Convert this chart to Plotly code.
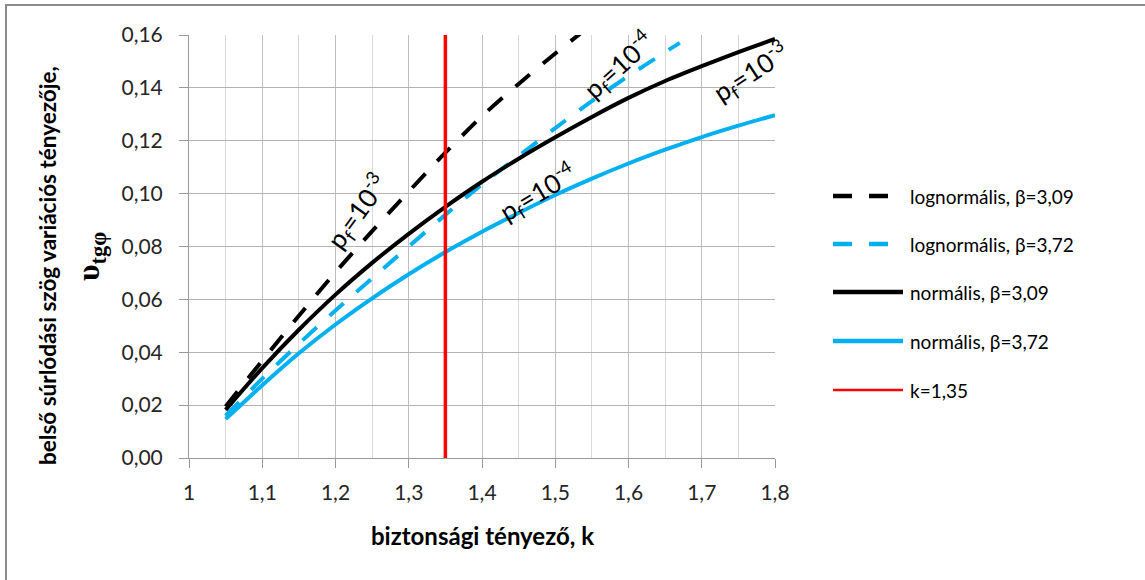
import plotly.graph_objects as go

# ---------------- data ----------------
k_norm = [1.05, 1.10, 1.15, 1.20, 1.25, 1.30, 1.35, 1.40, 1.45, 1.50, 1.55, 1.60, 1.65, 1.70, 1.75, 1.80]
v_norm_309 = [0.0182, 0.0340, 0.0485, 0.0618, 0.0738, 0.0848, 0.0950, 0.1045, 0.1132, 0.1213,
              0.1290, 0.1362, 0.1426, 0.1482, 0.1535, 0.1585]
v_norm_372 = [0.0147, 0.0275, 0.0396, 0.0505, 0.0604, 0.0695, 0.0779, 0.0856, 0.0927, 0.0995,
              0.1057, 0.1114, 0.1166, 0.1214, 0.1257, 0.1297]

k_logn_309 = [1.05, 1.10, 1.15, 1.20, 1.25, 1.30, 1.35, 1.40, 1.45, 1.50, 1.55]
v_logn_309 = [0.0195, 0.0368, 0.0538, 0.0703, 0.0858, 0.1008, 0.1155, 0.1293, 0.1415, 0.1530, 0.1640]

k_logn_372 = [1.05, 1.10, 1.15, 1.20, 1.25, 1.30, 1.35, 1.40, 1.45, 1.50, 1.55, 1.60, 1.65, 1.67]
v_logn_372 = [0.0160, 0.0300, 0.0432, 0.0558, 0.0680, 0.0800, 0.0920, 0.1035, 0.1142, 0.1248,
              0.1350, 0.1445, 0.1535, 0.1570]

k_ref = [1.35, 1.35]
v_ref = [0.0, 0.16]

series_names = ["lognormális, β=3,09", "lognormális, β=3,72", "normális, β=3,09",
                "normális, β=3,72", "k=1,35"]

x_tickvals = [1.0, 1.1, 1.2, 1.3, 1.4, 1.5, 1.6, 1.7, 1.8]
x_ticktext = ["1", "1,1", "1,2", "1,3", "1,4", "1,5", "1,6", "1,7", "1,8"]
y_tickvals = [0.00, 0.02, 0.04, 0.06, 0.08, 0.10, 0.12, 0.14, 0.16]
y_ticktext = ["0,00", "0,02", "0,04", "0,06", "0,08", "0,10", "0,12", "0,14", "0,16"]

# annotation labels: (k, v, text, angle)
label_k = [1.230, 1.587, 1.477, 1.767]
label_v = [0.0935, 0.1485, 0.1005, 0.1460]
label_text = ["p<sub>f</sub>=10<sup>-3</sup>", "p<sub>f</sub>=10<sup>-4</sup>",
              "p<sub>f</sub>=10<sup>-4</sup>", "p<sub>f</sub>=10<sup>-3</sup>"]
label_angle = [-54, -42, -31, -33]

# ---------------- style ----------------
BLACK = "#000000"
BLUE = "#00B0F0"
RED = "#FF0000"
FONT = "Lato"
DASH = "19px,17px"
W, H = 1145, 580
ML, MR, MT, MB = 189, 370, 35, 122
PW, PH = W - ML - MR, H - MT - MB


def px2x(px):
    return (px - ML) / PW


def py2y(py):
    return (H - MB - py) / PH


fig = go.Figure()
fig.add_trace(go.Scatter(x=k_logn_309, y=v_logn_309, mode="lines", name=series_names[0],
                         line=dict(color=BLACK, width=4, dash=DASH, shape="spline", smoothing=0.8),
                         showlegend=False))
fig.add_trace(go.Scatter(x=k_logn_372, y=v_logn_372, mode="lines", name=series_names[1],
                         line=dict(color=BLUE, width=4, dash=DASH, shape="spline", smoothing=0.8),
                         showlegend=False))
fig.add_trace(go.Scatter(x=k_norm, y=v_norm_309, mode="lines", name=series_names[2],
                         line=dict(color=BLACK, width=4, shape="spline", smoothing=0.8),
                         showlegend=False))
fig.add_trace(go.Scatter(x=k_norm, y=v_norm_372, mode="lines", name=series_names[3],
                         line=dict(color=BLUE, width=4, shape="spline", smoothing=0.8),
                         showlegend=False))
fig.add_trace(go.Scatter(x=k_ref, y=v_ref, mode="lines", name=series_names[4],
                         line=dict(color=RED, width=3.5), showlegend=False))

annotations = []
for kx, vy, txt, ang in zip(label_k, label_v, label_text, label_angle):
    annotations.append(dict(x=kx, y=vy, xref="x", yref="y", text=txt, textangle=ang,
                            showarrow=False, xanchor="center", yanchor="middle",
                            font=dict(family=FONT, size=26, color="#000000")))

# axis titles
annotations.append(dict(x=0.5, y=py2y(535), xref="paper", yref="paper",
                        text="<b>biztonsági tényező, k</b>", showarrow=False,
                        xanchor="center", yanchor="middle",
                        font=dict(family=FONT, size=24, color="#000000")))
annotations.append(dict(x=px2x(47), y=py2y(266), xref="paper", yref="paper",
                        text="<b>belső súrlódási szög variációs tényezője,</b>", showarrow=False,
                        textangle=-90, xanchor="center", yanchor="middle",
                        font=dict(family=FONT, size=22.5, color="#000000")))
annotations.append(dict(x=px2x(90), y=py2y(257), xref="paper", yref="paper",
                        text="<b>υ<sub>tgφ</sub></b>", showarrow=False,
                        textangle=-90, xanchor="center", yanchor="middle",
                        font=dict(family="Liberation Serif", size=32, color="#000000")))

# manual legend
legend_rows = [196, 244, 292, 341, 390]
legend_colors = [BLACK, BLUE, BLACK, BLUE, RED]
legend_dash = [DASH, DASH, "solid", "solid", "solid"]
legend_x1 = [889, 889, 903, 903, 903]
legend_w = [4.5, 4.5, 4.5, 4.5, 2.5]
shapes = []
for row, col, dsh, x1, lw, nm in zip(legend_rows, legend_colors, legend_dash, legend_x1, legend_w, series_names):
    shapes.append(dict(type="line", xref="paper", yref="paper",
                       x0=px2x(833), x1=px2x(x1), y0=py2y(row), y1=py2y(row),
                       line=dict(color=col, width=lw, dash=dsh)))
    annotations.append(dict(x=px2x(908), y=py2y(row), xref="paper", yref="paper",
                            text=nm, showarrow=False, xanchor="left", yanchor="middle",
                            font=dict(family=FONT, size=19, color="#000000")))

# outer frame
shapes.append(dict(type="rect", xref="paper", yref="paper",
                   x0=px2x(6), x1=px2x(1160), y0=py2y(595), y1=py2y(5),
                   line=dict(color="#8c8c8c", width=2), layer="below"))

fig.update_layout(
    width=W, height=H,
    margin=dict(l=ML, r=MR, t=MT, b=MB, pad=0),
    paper_bgcolor="white", plot_bgcolor="white",
    font=dict(family=FONT, size=21, color="#262626"),
    showlegend=False,
    annotations=annotations,
    shapes=shapes,
    xaxis=dict(range=[1.0, 1.8], tickvals=x_tickvals, ticktext=x_ticktext,
               showgrid=True, gridcolor="#bfbfbf", gridwidth=1,
               minor=dict(dtick=0.05, tick0=1.0, showgrid=True, gridcolor="#d9d9d9", gridwidth=1,
                          ticks=""),
               showline=True, linecolor="#999999", linewidth=1,
               ticks="outside", ticklen=9, tickcolor="#999999",
               ticklabelstandoff=7,
               zeroline=False, fixedrange=True,
               tickfont=dict(family=FONT, size=21, color="#262626")),
    yaxis=dict(range=[0.0, 0.16], tickvals=y_tickvals, ticktext=y_ticktext,
               showgrid=True, gridcolor="#b3b3b3", gridwidth=1,
               showline=True, linecolor="#999999", linewidth=1,
               ticks="outside", ticklen=9, tickcolor="#999999",
               ticklabelstandoff=12,
               zeroline=False, fixedrange=True,
               tickfont=dict(family=FONT, size=21, color="#262626")),
)

fig.write_html("out.html", config={"displayModeBar": False})
